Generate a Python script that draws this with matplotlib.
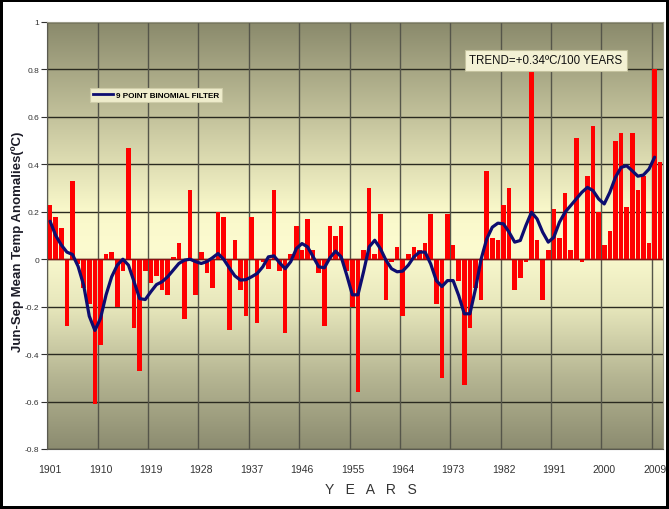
import numpy as np
import matplotlib.pyplot as plt
from matplotlib.colors import LinearSegmentedColormap
from matplotlib.lines import Line2D

# Jun-Sep mean temperature anomalies (ºC), 1901-2010
years = list(range(1901, 2011))
anomaly = [
    0.23, 0.18, 0.13, -0.28, 0.33, -0.02, -0.12, -0.19, -0.61, -0.36,   # 1901-1910
    0.02, 0.03, -0.20, -0.05, 0.47, -0.29, -0.47, -0.05, -0.10, -0.07,  # 1911-1920
    -0.13, -0.15, 0.01, 0.07, -0.25, 0.29, -0.15, 0.03, -0.06, -0.12,   # 1921-1930
    0.20, 0.18, -0.30, 0.08, -0.13, -0.24, 0.18, -0.27, -0.01, -0.04,   # 1931-1940
    0.29, -0.05, -0.31, 0.02, 0.14, 0.04, 0.17, 0.04, -0.06, -0.28,     # 1941-1950
    0.14, 0.10, 0.14, -0.05, -0.20, -0.56, 0.04, 0.30, 0.02, 0.19,      # 1951-1960
    -0.17, -0.01, 0.05, -0.24, 0.02, 0.05, 0.04, 0.07, 0.19, -0.19,     # 1961-1970
    -0.50, 0.19, 0.06, -0.09, -0.53, -0.29, -0.12, -0.17, 0.37, 0.09,   # 1971-1980
    0.08, 0.23, 0.30, -0.13, -0.08, -0.01, 0.79, 0.08, -0.17, 0.04,     # 1981-1990
    0.21, 0.09, 0.28, 0.04, 0.51, -0.01, 0.35, 0.56, 0.20, 0.06,        # 1991-2000
    0.12, 0.50, 0.53, 0.22, 0.53, 0.29, 0.35, 0.07, 0.80, 0.41,         # 2001-2010
]

# 9 point binomial filter curve, 1901-2009
filter_years = list(range(1901, 2010))
filtered = [
    0.16, 0.10, 0.06, 0.03, 0.02, -0.03, -0.11, -0.24, -0.30, -0.25,
    -0.15, -0.074, -0.025, 0.0, -0.025, -0.095, -0.166, -0.17, -0.137, -0.107,
    -0.095, -0.074, -0.046, -0.018, -0.004, 0.0, -0.01, -0.018, -0.01, 0.006,
    0.024, 0.0, -0.036, -0.07, -0.088, -0.086, -0.074, -0.06, -0.032, 0.01,
    0.014, -0.015, -0.04, -0.01, 0.045, 0.066, 0.052, 0.01, -0.032, -0.036,
    0.006, 0.034, 0.01, -0.067, -0.15, -0.15, -0.053, 0.052, 0.08, 0.045,
    -0.004, -0.04, -0.053, -0.05, -0.025, 0.01, 0.03, 0.03, -0.02, -0.09,
    -0.115, -0.09, -0.09, -0.153, -0.23, -0.23, -0.125, 0.0, 0.085, 0.135,
    0.152, 0.149, 0.114, 0.072, 0.079, 0.142, 0.198, 0.17, 0.114, 0.072,
    0.093, 0.156, 0.198, 0.226, 0.254, 0.282, 0.303, 0.289, 0.254, 0.233,
    0.282, 0.345, 0.387, 0.394, 0.373, 0.35, 0.355, 0.38, 0.43,
]

tick_years = list(range(1901, 2010, 9))
y_ticks = [1, 0.8, 0.6, 0.4, 0.2, 0, -0.2, -0.4, -0.6, -0.8]
y_tick_labels = ["1", "0.8", "0.6", "0.4", "0.2", "0", "-0.2", "-0.4", "-0.6", "-0.8"]

trend_text = "TREND=+0.34ºC/100 YEARS"
legend_text = "9 POINT BINOMIAL FILTER"

plt.rcParams["font.family"] = ["Liberation Sans", "DejaVu Sans"]

fig = plt.figure(figsize=(6.69, 5.10), dpi=100, facecolor="white",
                 edgecolor="black", linewidth=3)
ax = fig.add_axes([47.3 / 669, 1 - 450 / 510, (663 - 47.3) / 669, 427 / 510])

y_min, y_max = -0.8, 1.0
n_slots = len(years)
ax.set_xlim(0, n_slots)
ax.set_ylim(y_min, y_max)

# plot-area fill: dark olive at top and bottom, pale yellow around zero
bg = LinearSegmentedColormap.from_list("bg", [
    (0.00, "#8c8c70"),
    (0.17, "#b6b693"),
    (0.33, "#e6e6bb"),
    (0.47, "#fcfbd0"),
    (0.56, "#f9f8ca"),
    (0.72, "#d2d1a8"),
    (1.00, "#8a8a6c"),
])
grad = np.linspace(0, 1, 256).reshape(-1, 1)
ax.imshow(grad, cmap=bg, origin="lower", aspect="auto",
          extent=[0, n_slots, y_min, y_max], zorder=0)

# grid
for y in y_ticks:
    ax.axhline(y, color="#2a2a20", lw=1.0, zorder=1)
for yr in tick_years:
    ax.axvline(years.index(yr), color="#55554a", lw=1.0, zorder=1)

# bars, one slot per year
xpos = np.arange(n_slots) + 0.5
ax.bar(xpos, anomaly, width=0.82, color="#ff0000", edgecolor="none", zorder=2)
ax.axhline(0, color="#8b1010", lw=1.0, zorder=2.5)

# filter curve
fx = np.array([years.index(y) for y in filter_years]) + 0.5
ax.plot(fx, filtered, color="#0d0d70", lw=2.3, solid_joinstyle="round",
        solid_capstyle="round", zorder=3)

# axes styling
for side in ["top", "right"]:
    ax.spines[side].set_color("#9a9a88")
for side in ["left", "bottom"]:
    ax.spines[side].set_color("#5a5a50")
ax.set_yticks(y_ticks)
ax.set_yticklabels(y_tick_labels)
ax.tick_params(axis="y", length=4, width=0.8, color="#333333", labelsize=6,
               labelcolor="#333333", pad=2)
ax.set_xticks([years.index(y) + 0.5 for y in tick_years])
ax.set_xticklabels([str(y) for y in tick_years])
ax.tick_params(axis="x", length=0, labelsize=7.5, labelcolor="#333333", pad=11)

fig.text(18 / 669, 1 - 242 / 510, "Jun-Sep Mean Temp Anomalies(ºC)",
         rotation=90, ha="center", va="center", fontsize=9.5,
         fontweight="bold", color="#1c1c28")
fig.text(371 / 669, 1 - 490 / 510, "Y   E   A   R   S", ha="center",
         va="center", fontsize=10, color="#333333")

# trend annotation
fig.text(546 / 669, 1 - 61.5 / 510, trend_text, ha="center", va="center",
         fontsize=8.3, color="#111111",
         bbox=dict(boxstyle="square,pad=0.35", facecolor="#f3f1d4",
                   edgecolor="#c4c29e", lw=0.8))

handle = Line2D([], [], color="#0d0d70", lw=2)
leg = ax.legend([handle], [legend_text], loc="upper left",
                bbox_to_anchor=((86 - 47.3) / 615.7, (450 - 85) / 427),
                prop=dict(size=5.9, weight="bold"),
                handlelength=2.4, handletextpad=0.3, borderpad=0.4,
                frameon=True, fancybox=False, framealpha=1)
leg.get_frame().set_facecolor("#efedcc")
leg.get_frame().set_edgecolor("#cfcdaa")
leg.get_frame().set_linewidth(0.8)
leg.set_zorder(5)

fig.savefig("out.png", dpi=100)
